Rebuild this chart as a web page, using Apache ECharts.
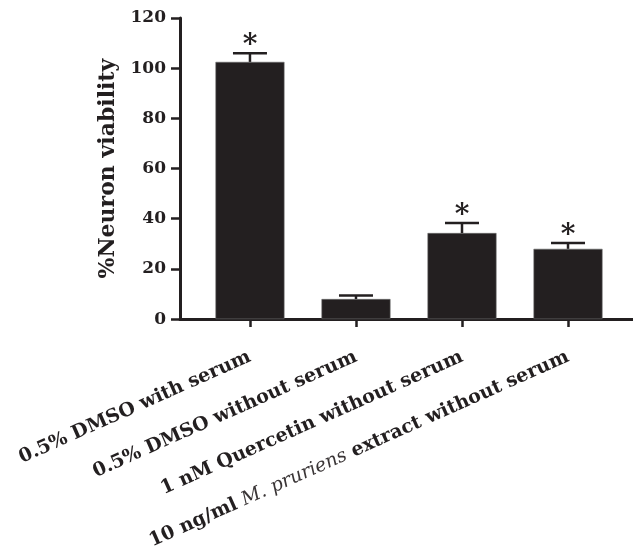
<!DOCTYPE html>
<html>
<head>
<meta charset="utf-8">
<script src="https://cdn.jsdelivr.net/npm/echarts@6/dist/echarts.min.js"></script>
<style>html,body{margin:0;padding:0;background:#fff;}#c{width:633px;height:552px;}</style>
</head>
<body>
<div id="c"></div>
<script>
const categories = [
  '{b|0.5% DMSO with serum}',
  '{b|0.5% DMSO without serum}',
  '{b|1 nM Quercetin without serum}',
  '{b|10 ng/ml }{i|M. pruriens}{b| extract without serum}'
];
const means = [102.5, 8.0, 34.3, 28.0];
const errors = [3.5, 1.4, 4.0, 2.3];
const significant = [true, false, true, true];
const yTicks = [0, 20, 40, 60, 80, 100, 120];

const INK = '#231f20';
const SERIF = '"DejaVu Serif", "Liberation Serif", serif';

const chart = echarts.init(document.getElementById('c'), null, {renderer: 'canvas'});
const positions = categories.map((_, i) => i);

chart.setOption({
  animation: false,
  backgroundColor: '#fff',
  grid: {left: 180, right: 0, top: 18, bottom: 230, containLabel: false},
  xAxis: {
    type: 'value',
    min: -0.66,
    max: 3.613,
    splitLine: {show: false},
    axisLine: {show: true, onZero: false, lineStyle: {color: INK, width: 3}},
    axisTick: {show: true, customValues: positions, length: 8, lineStyle: {color: INK, width: 2.5}},
    axisLabel: {
      customValues: positions,
      rotate: 24,
      margin: 37,
      color: INK,
      formatter: v => categories[Math.round(v)] || '',
      rich: {
        b: {fontFamily: SERIF, fontWeight: 'bold', fontSize: 19, color: INK},
        i: {fontFamily: SERIF, fontStyle: 'italic', fontWeight: 'normal', fontSize: 19, color: '#3a3536'}
      }
    }
  },
  yAxis: {
    type: 'value',
    min: yTicks[0],
    max: yTicks[yTicks.length - 1],
    interval: 20,
    name: '%Neuron viability',
    nameLocation: 'middle',
    nameRotate: 90,
    nameGap: 52,
    nameTextStyle: {fontFamily: SERIF, fontWeight: 'bold', fontSize: 22, color: INK},
    splitLine: {show: false},
    axisLine: {show: true, onZero: false, lineStyle: {color: INK, width: 3}},
    axisTick: {show: true, length: 9, lineStyle: {color: INK, width: 2.5}},
    axisLabel: {fontFamily: SERIF, fontWeight: 'bold', fontSize: 17, color: INK, margin: 14}
  },
  series: [
    {
      type: 'bar',
      barWidth: 69,
      data: means.map((m, i) => [positions[i], m]),
      itemStyle: {color: INK, borderColor: '#6a6a6a', borderWidth: 0.6},
      z: 2
    },
    {
      type: 'custom',
      z: 3,
      data: means.map((m, i) => [positions[i], m, errors[i], significant[i] ? 1 : 0]),
      renderItem: (params, api) => {
        const x = api.value(0), m = api.value(1), e = api.value(2), s = api.value(3);
        const base = api.coord([x, m]);
        const top = api.coord([x, m + e]);
        const hw = 17;
        const children = [
          {type: 'line', shape: {x1: base[0], y1: base[1], x2: top[0], y2: top[1]}, style: {stroke: INK, lineWidth: 2.5}},
          {type: 'line', shape: {x1: top[0] - hw, y1: top[1], x2: top[0] + hw, y2: top[1]}, style: {stroke: INK, lineWidth: 2.5}}
        ];
        if (s) {
          children.push({type: 'text', style: {text: '*', x: top[0], y: top[1] + 7, align: 'center', verticalAlign: 'bottom', fill: INK, font: 'bold 28px ' + SERIF}});
        }
        return {type: 'group', children};
      }
    }
  ]
});
</script>
</body>
</html>
